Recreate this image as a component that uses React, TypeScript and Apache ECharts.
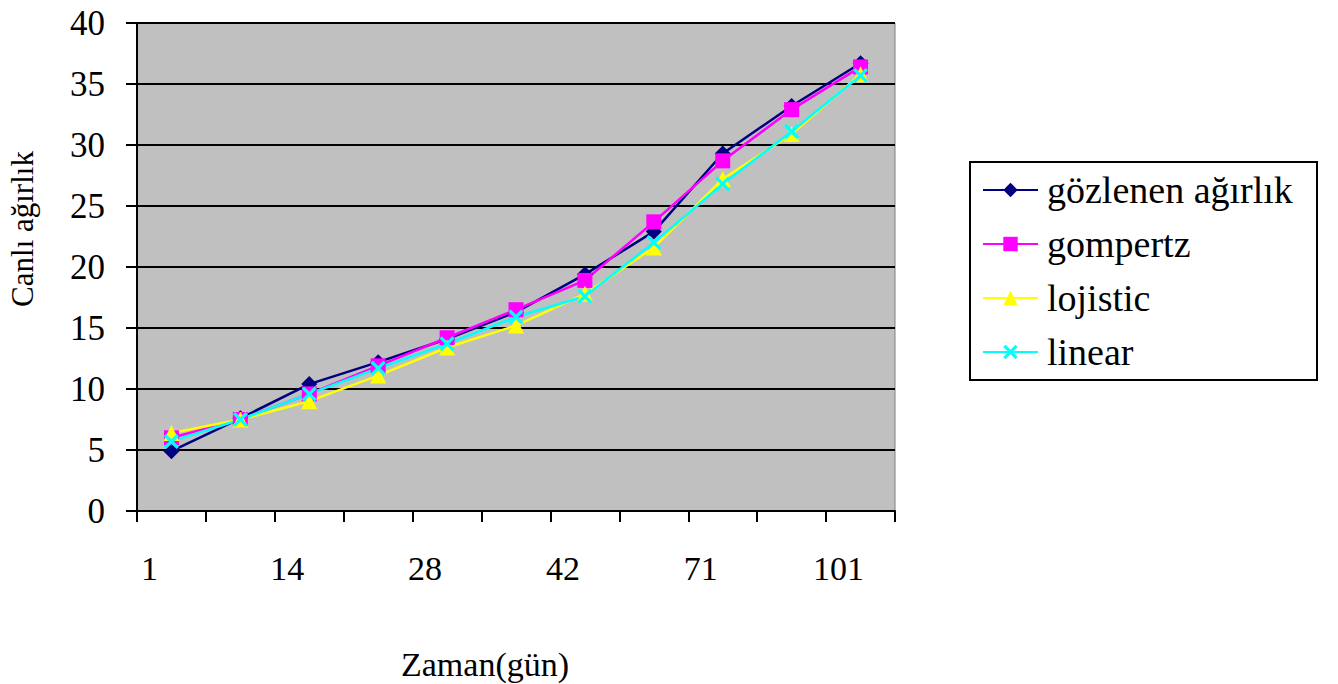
import React, { useEffect, useRef } from "react";
import * as echarts from "echarts";

const categories = ["1", "7", "14", "21", "28", "35", "42", "56", "71", "86", "101"];
const observed = [4.9, 7.6, 10.4, 12.2, 14.1, 16.3, 19.4, 22.9, 29.3, 33.2, 36.7];
const gompertz = [6.0, 7.5, 9.6, 11.9, 14.2, 16.5, 18.9, 23.7, 28.7, 32.9, 36.4];
const lojistic = [6.4, 7.5, 9.0, 11.1, 13.4, 15.2, 17.8, 21.6, 27.2, 30.9, 35.8];
const linear = [5.7, 7.5, 9.6, 11.7, 13.7, 15.9, 17.6, 22.0, 26.8, 31.1, 35.7];

const FONT = "'Liberation Serif', 'Times New Roman', serif";
const CROSS =
  "path://M0,1.5 L1.5,0 L5,3.5 L8.5,0 L10,1.5 L6.5,5 L10,8.5 L8.5,10 L5,6.5 L1.5,10 L0,8.5 L3.5,5 Z";

export default function App() {
  const ref = useRef<HTMLDivElement>(null);
  useEffect(() => {
    if (!ref.current) return;
    const chart = echarts.init(ref.current, undefined, { renderer: "svg" });
    const mk = (name: string, data: number[], color: string, symbol: string, size: number, width: number) => ({
      name,
      type: "line",
      data,
      symbol,
      symbolSize: size,
      showSymbol: true,
      lineStyle: { color, width },
      itemStyle: { color, borderWidth: 0 },
      emphasis: { disabled: true },
    });
    chart.setOption({
      animation: false,
      backgroundColor: "#ffffff",
      textStyle: { fontFamily: FONT },
      grid: {
        left: 137,
        top: 23,
        width: 758,
        height: 488,
        show: true,
        backgroundColor: "#C0C0C0",
        borderColor: "#808080",
        borderWidth: 1,
      },
      xAxis: {
        type: "category",
        data: categories,
        boundaryGap: true,
        axisLine: { show: true, lineStyle: { color: "#000", width: 2 } },
        axisTick: { show: true, interval: 0, length: 11, lineStyle: { color: "#000", width: 2 } },
        axisLabel: {
          interval: 1,
          color: "#000",
          fontFamily: FONT,
          fontSize: 34,
          margin: 40,
          padding: [0, 44, 0, 0],
        },
        splitLine: { show: false },
      },
      yAxis: {
        type: "value",
        min: 0,
        max: 40,
        interval: 5,
        axisLine: { show: true, lineStyle: { color: "#000", width: 2 } },
        axisTick: { show: true, length: 11, lineStyle: { color: "#000", width: 2 } },
        axisLabel: { color: "#000", fontFamily: FONT, fontSize: 35, margin: 32 },
        splitLine: { show: true, lineStyle: { color: "#000", width: 2 } },
      },
      legend: {
        orient: "vertical",
        left: 982,
        top: 171,
        padding: 0,
        itemWidth: 55,
        itemHeight: 18,
        itemGap: 16,
        selectedMode: false,
        textStyle: { color: "#000", fontFamily: FONT, fontSize: 38, lineHeight: 38, padding: [0, 0, 0, 4] },
        data: ["gözlenen ağırlık", "gompertz", "lojistic", "linear"],
      },
      graphic: [
        {
          type: "rect",
          z: 0,
          shape: { x: 970, y: 162, width: 347, height: 218 },
          style: { fill: "#fff", stroke: "#000", lineWidth: 2 },
        },
        {
          type: "text",
          x: 22,
          y: 229,
          rotation: Math.PI / 2,
          style: {
            text: "Canlı ağırlık",
            fontFamily: FONT,
            fontSize: 31,
            fill: "#000",
            align: "center",
            verticalAlign: "middle",
          },
        },
        {
          type: "text",
          x: 485,
          y: 664,
          style: {
            text: "Zaman(gün)",
            fontFamily: FONT,
            fontSize: 34,
            fill: "#000",
            align: "center",
            verticalAlign: "middle",
          },
        },
      ],
      series: [
        mk("gözlenen ağırlık", observed, "#000080", "diamond", 16, 2.5),
        mk("gompertz", gompertz, "#FF00FF", "rect", 15, 2.5),
        mk("lojistic", lojistic, "#FFFF00", "triangle", 16, 2.5),
        mk("linear", linear, "#00FFFF", CROSS, 15, 2.5),
      ],
    });
    return () => chart.dispose();
  }, []);
  return (
    <div
      ref={ref}
      style={{ position: "fixed", left: 0, top: 0, width: 1338, height: 684 }}
    />
  );
}
